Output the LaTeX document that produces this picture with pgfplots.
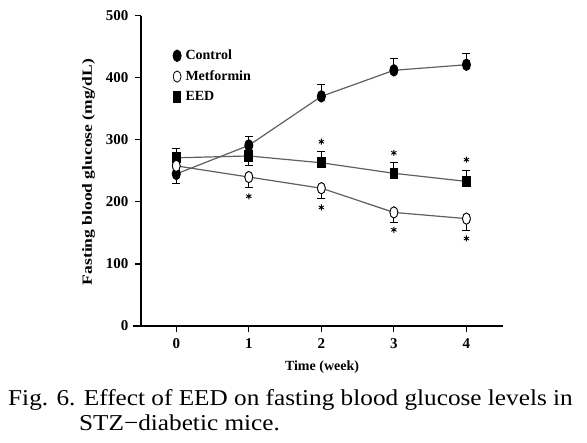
\documentclass[border=0pt]{standalone}
\usepackage{pgfplots}
\pgfplotsset{compat=1.18}
\usepackage{pgfplotstable}
\usepackage{fontspec}
\setmainfont{Liberation Serif}
\definecolor{lineGray}{RGB}{95,95,95}

\pgfplotstableread{
x y ep em
0 245 0 16
1 291 15 0
2 370 19 0
3 412 19 0
4 421 18 0
}\control
\pgfplotstableread{
x y ep em
0 258 0 0
1 240 0 17
2 222 0 17
3 183 0 16
4 173 0 19
}\metformin
\pgfplotstableread{
x y ep em
0 271 15 0
1 274 0 15
2 263 19 0
3 246 18 0
4 233 18 0
}\eed
\pgfplotstableread{
x y
2 297
3 279
4 268
1 209
2 191
3 155
4 141
}\stars

\begin{document}
\begin{tikzpicture}
\useasboundingbox (0,0) rectangle (587pt,443pt);
\begin{axis}[
  at={(141pt,117pt)}, anchor=south west,
  width=361.7pt, height=310.3pt, scale only axis,
  xmin=-0.486, xmax=4.5, ymin=0, ymax=500,
  axis x line=bottom, axis y line=left,
  axis line style={line width=1.6pt, -},
  xtick={0,1,2,3,4}, ytick={0,100,200,300,400,500},
  tick align=outside, major tick length=6pt,
  tick style={line width=1.2pt, black},
  ticklabel style={font=\fontsize{15}{15}\selectfont\bfseries},
  xticklabel style={yshift=-3pt},
  yticklabel style={xshift=-3pt},
  /pgf/number format/assume math mode=true,
  clip=false,
  legend style={at={(axis cs:-0.045,448)}, anchor=north west, draw=none, fill=none,
    font=\fontsize{14}{16}\selectfont\bfseries, inner sep=0pt, row sep=5.5pt,
    column sep=2.5pt},
  legend cell align=left,
  legend image code/.code={\draw[#1] plot coordinates {(0pt,0pt)};},
]
\addplot[color=lineGray, line width=1.2pt, mark=*, mark size=5.6pt,
  mark options={black, fill=black, xscale=0.7, solid},
  error bars/.cd, y dir=both, y explicit,
  error bar style={black, line width=0.8pt},
  error mark options={rotate=90, black, mark size=4pt, line width=0.8pt}]
  table[x=x, y=y, y error plus=ep, y error minus=em] {\control};
\addlegendentry{Control}
\addplot[color=lineGray, line width=1.2pt, mark=*, mark size=5.6pt,
  mark options={black, fill=white, xscale=0.7, line width=0.8pt, solid},
  error bars/.cd, y dir=both, y explicit,
  error bar style={black, line width=0.8pt},
  error mark options={rotate=90, black, mark size=4pt, line width=0.8pt}]
  table[x=x, y=y, y error plus=ep, y error minus=em] {\metformin};
\addlegendentry{Metformin}
\addplot[color=lineGray, line width=1.2pt, mark=square*, mark size=5pt,
  mark options={black, fill=black, xscale=0.75, solid},
  error bars/.cd, y dir=both, y explicit,
  error bar style={black, line width=0.8pt},
  error mark options={rotate=90, black, mark size=4pt, line width=0.8pt}]
  table[x=x, y=y, y error plus=ep, y error minus=em] {\eed};
\addlegendentry{EED}
\addplot[forget plot, only marks, mark=*, mark size=5.6pt,
  mark options={black, fill=white, xscale=0.7, line width=0.8pt}]
  table[x=x, y=y] {\metformin};
\addplot[forget plot, only marks, mark=asterisk, mark size=3pt,
  mark options={black, line width=0.9pt}]
  table[x=x, y=y] {\stars};
\end{axis}
\draw[line width=1.6pt] (133pt,117pt) -- (142pt,117pt);
\node[rotate=90, font=\fontsize{17.5}{17.5}\selectfont\bfseries] at (88.5pt,271pt)
  {\scalebox{1}[0.8]{Fasting blood glucose (mg/dL)}};
\node[anchor=base, font=\fontsize{14}{14}\selectfont\bfseries] at (322pt,72.5pt) {Time (week)};
\node[anchor=base west, font=\fontsize{22.7}{22.7}\selectfont, inner sep=0pt] at (8pt,37pt)
  {\scalebox{1.112}[1]{Fig. 6. Effect of EED on fasting blood glucose levels in}};
\node[anchor=base west, font=\fontsize{22.7}{22.7}\selectfont, inner sep=0pt] at (79pt,12pt)
  {\scalebox{1.112}[1]{STZ−diabetic mice.}};
\end{tikzpicture}
\end{document}
